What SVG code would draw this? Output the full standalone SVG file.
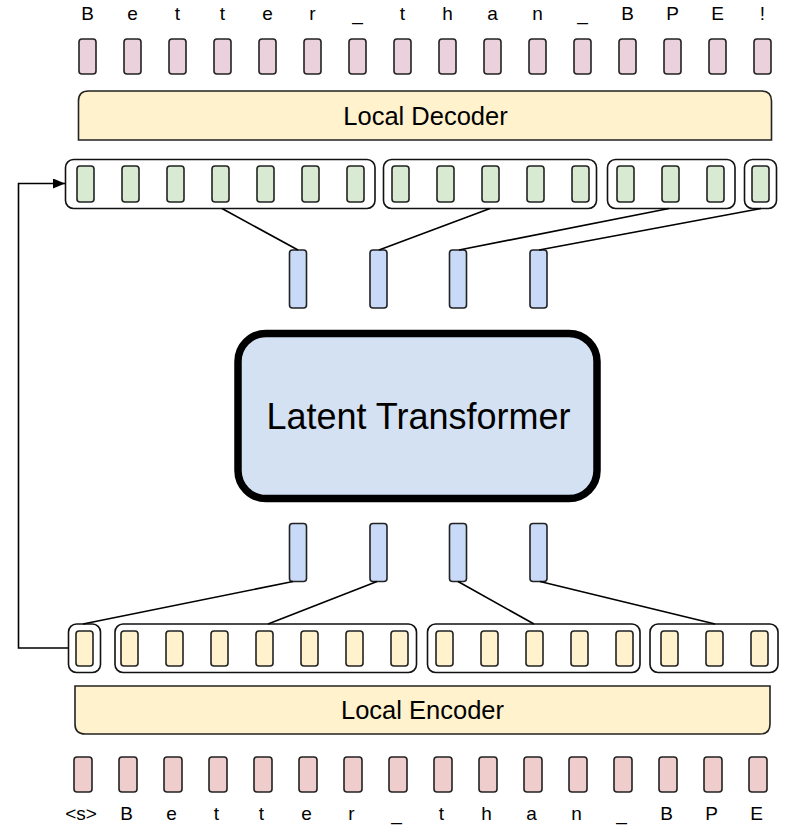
<svg xmlns="http://www.w3.org/2000/svg" width="790" height="830" viewBox="0 0 790 830">
<defs>
<style>
.ch{font-family:"Liberation Sans",Arial,sans-serif;font-size:19px;fill:#000;text-anchor:middle}
.lbl{font-family:"Liberation Sans",Arial,sans-serif;font-size:25.5px;fill:#000;text-anchor:middle}
.big{font-family:"Liberation Sans",Arial,sans-serif;font-size:36px;fill:#000;text-anchor:middle}
.tok{stroke:#222;stroke-width:1.6}
.pt{fill:#ead1dc}
.pb{fill:#efcdcd}
.gr{fill:#d9ead3}
.ye{fill:#fff2cc}
.bl{fill:#c9daf8}
.grp{fill:none;stroke:#111;stroke-width:1.6}
.band{fill:#fff2cc;stroke:#222;stroke-width:1.6}
.cn{fill:none;stroke:#000;stroke-width:1.6}
</style>
<marker id="ah" viewBox="0 0 12 10" refX="12" refY="5" markerWidth="12" markerHeight="10" markerUnits="userSpaceOnUse" orient="auto">
<path d="M0,0 L12,5 L0,10 Z" fill="#000"/>
</marker>
</defs>
<rect width="790" height="830" fill="#fff"/>

<g id="output-chars">
<text class="ch" x="87.5" y="20">B</text>
<text class="ch" x="132.5" y="20">e</text>
<text class="ch" x="177.5" y="20">t</text>
<text class="ch" x="222.5" y="20">t</text>
<text class="ch" x="267.5" y="20">e</text>
<text class="ch" x="312.5" y="20">r</text>
<text class="ch" x="357.5" y="20">_</text>
<text class="ch" x="402.5" y="20">t</text>
<text class="ch" x="447.5" y="20">h</text>
<text class="ch" x="492.5" y="20">a</text>
<text class="ch" x="537.5" y="20">n</text>
<text class="ch" x="582.5" y="20">_</text>
<text class="ch" x="627.5" y="20">B</text>
<text class="ch" x="672.5" y="20">P</text>
<text class="ch" x="717.5" y="20">E</text>
<text class="ch" x="762.5" y="20">!</text>
</g>

<g id="output-tokens">
<rect class="tok pt" x="79" y="39" width="17" height="35" rx="3"/>
<rect class="tok pt" x="124" y="39" width="17" height="35" rx="3"/>
<rect class="tok pt" x="169" y="39" width="17" height="35" rx="3"/>
<rect class="tok pt" x="214" y="39" width="17" height="35" rx="3"/>
<rect class="tok pt" x="259" y="39" width="17" height="35" rx="3"/>
<rect class="tok pt" x="304" y="39" width="17" height="35" rx="3"/>
<rect class="tok pt" x="349" y="39" width="17" height="35" rx="3"/>
<rect class="tok pt" x="394" y="39" width="17" height="35" rx="3"/>
<rect class="tok pt" x="439" y="39" width="17" height="35" rx="3"/>
<rect class="tok pt" x="484" y="39" width="17" height="35" rx="3"/>
<rect class="tok pt" x="529" y="39" width="17" height="35" rx="3"/>
<rect class="tok pt" x="574" y="39" width="17" height="35" rx="3"/>
<rect class="tok pt" x="619" y="39" width="17" height="35" rx="3"/>
<rect class="tok pt" x="664" y="39" width="17" height="35" rx="3"/>
<rect class="tok pt" x="709" y="39" width="17" height="35" rx="3"/>
<rect class="tok pt" x="754" y="39" width="17" height="35" rx="3"/>
</g>

<g id="local-decoder">
<path class="band" d="M78.5,140 V101 Q78.5,91 88.5,91 H761.5 Q771.5,91 771.5,101 V140 Z"/>
<text class="lbl" x="425.5" y="124.5">Local Decoder</text>
</g>

<g id="decoder-patches">
<rect class="grp" x="65.5" y="159.5" width="309.5" height="49" rx="8"/>
<rect class="grp" x="383.5" y="159.5" width="213" height="49" rx="8"/>
<rect class="grp" x="607.5" y="159.5" width="127.5" height="49" rx="8"/>
<rect class="grp" x="744.5" y="159.5" width="32" height="49" rx="8"/>
<rect class="tok gr" x="77" y="166" width="17" height="36" rx="3"/>
<rect class="tok gr" x="122" y="166" width="17" height="36" rx="3"/>
<rect class="tok gr" x="167" y="166" width="17" height="36" rx="3"/>
<rect class="tok gr" x="212" y="166" width="17" height="36" rx="3"/>
<rect class="tok gr" x="257" y="166" width="17" height="36" rx="3"/>
<rect class="tok gr" x="302" y="166" width="17" height="36" rx="3"/>
<rect class="tok gr" x="347" y="166" width="17" height="36" rx="3"/>
<rect class="tok gr" x="392" y="166" width="17" height="36" rx="3"/>
<rect class="tok gr" x="437" y="166" width="17" height="36" rx="3"/>
<rect class="tok gr" x="482" y="166" width="17" height="36" rx="3"/>
<rect class="tok gr" x="527" y="166" width="17" height="36" rx="3"/>
<rect class="tok gr" x="572" y="166" width="17" height="36" rx="3"/>
<rect class="tok gr" x="617" y="166" width="17" height="36" rx="3"/>
<rect class="tok gr" x="662" y="166" width="17" height="36" rx="3"/>
<rect class="tok gr" x="707" y="166" width="17" height="36" rx="3"/>
<rect class="tok gr" x="752" y="166" width="17" height="36" rx="3"/>
</g>

<g id="latent-out">
<rect class="tok bl" x="289.5" y="250" width="17" height="58" rx="3"/>
<rect class="tok bl" x="370" y="250" width="17" height="58" rx="3"/>
<rect class="tok bl" x="449.5" y="250" width="17" height="58" rx="3"/>
<rect class="tok bl" x="530" y="250" width="17" height="58" rx="3"/>
</g>

<g id="latent-transformer">
<rect x="238" y="333.5" width="359" height="165" rx="28" fill="#d4e1f3" stroke="#000" stroke-width="7.5"/>
<text class="big" x="418.5" y="429">Latent Transformer</text>
</g>

<g id="latent-in">
<rect class="tok bl" x="289.5" y="523.5" width="17" height="58" rx="3"/>
<rect class="tok bl" x="370" y="523.5" width="17" height="58" rx="3"/>
<rect class="tok bl" x="449.5" y="523.5" width="17" height="58" rx="3"/>
<rect class="tok bl" x="530" y="523.5" width="17" height="58" rx="3"/>
</g>

<g id="encoder-patches">
<rect class="grp" x="68.5" y="624" width="32" height="48.5" rx="8"/>
<rect class="grp" x="115" y="624" width="301.5" height="48.5" rx="8"/>
<rect class="grp" x="427.5" y="624" width="212.5" height="48.5" rx="8"/>
<rect class="grp" x="650" y="624" width="128" height="48.5" rx="8"/>
<rect class="tok ye" x="76" y="631" width="17" height="35" rx="3"/>
<rect class="tok ye" x="121" y="631" width="17" height="35" rx="3"/>
<rect class="tok ye" x="166" y="631" width="17" height="35" rx="3"/>
<rect class="tok ye" x="211" y="631" width="17" height="35" rx="3"/>
<rect class="tok ye" x="256" y="631" width="17" height="35" rx="3"/>
<rect class="tok ye" x="301" y="631" width="17" height="35" rx="3"/>
<rect class="tok ye" x="346" y="631" width="17" height="35" rx="3"/>
<rect class="tok ye" x="391" y="631" width="17" height="35" rx="3"/>
<rect class="tok ye" x="436" y="631" width="17" height="35" rx="3"/>
<rect class="tok ye" x="481" y="631" width="17" height="35" rx="3"/>
<rect class="tok ye" x="526" y="631" width="17" height="35" rx="3"/>
<rect class="tok ye" x="571" y="631" width="17" height="35" rx="3"/>
<rect class="tok ye" x="616" y="631" width="17" height="35" rx="3"/>
<rect class="tok ye" x="661" y="631" width="17" height="35" rx="3"/>
<rect class="tok ye" x="706" y="631" width="17" height="35" rx="3"/>
<rect class="tok ye" x="751" y="631" width="17" height="35" rx="3"/>
</g>

<g id="local-encoder">
<path class="band" d="M75,686 H770 V724 Q770,734 760,734 H85 Q75,734 75,724 Z"/>
<text class="lbl" x="422.5" y="719">Local Encoder</text>
</g>

<g id="input-tokens">
<rect class="tok pb" x="74" y="757" width="18" height="35" rx="3"/>
<rect class="tok pb" x="119" y="757" width="18" height="35" rx="3"/>
<rect class="tok pb" x="164" y="757" width="18" height="35" rx="3"/>
<rect class="tok pb" x="209" y="757" width="18" height="35" rx="3"/>
<rect class="tok pb" x="254" y="757" width="18" height="35" rx="3"/>
<rect class="tok pb" x="299" y="757" width="18" height="35" rx="3"/>
<rect class="tok pb" x="344" y="757" width="18" height="35" rx="3"/>
<rect class="tok pb" x="389" y="757" width="18" height="35" rx="3"/>
<rect class="tok pb" x="434" y="757" width="18" height="35" rx="3"/>
<rect class="tok pb" x="479" y="757" width="18" height="35" rx="3"/>
<rect class="tok pb" x="524" y="757" width="18" height="35" rx="3"/>
<rect class="tok pb" x="569" y="757" width="18" height="35" rx="3"/>
<rect class="tok pb" x="614" y="757" width="18" height="35" rx="3"/>
<rect class="tok pb" x="659" y="757" width="18" height="35" rx="3"/>
<rect class="tok pb" x="704" y="757" width="18" height="35" rx="3"/>
<rect class="tok pb" x="749" y="757" width="18" height="35" rx="3"/>
</g>

<g id="input-chars">
<text class="ch" x="81" y="820">&lt;s&gt;</text>
<text class="ch" x="126.5" y="820">B</text>
<text class="ch" x="171.5" y="820">e</text>
<text class="ch" x="216.5" y="820">t</text>
<text class="ch" x="261.5" y="820">t</text>
<text class="ch" x="306.5" y="820">e</text>
<text class="ch" x="351.5" y="820">r</text>
<text class="ch" x="396.5" y="820">_</text>
<text class="ch" x="441.5" y="820">t</text>
<text class="ch" x="486.5" y="820">h</text>
<text class="ch" x="531.5" y="820">a</text>
<text class="ch" x="576.5" y="820">n</text>
<text class="ch" x="621.5" y="820">_</text>
<text class="ch" x="666.5" y="820">B</text>
<text class="ch" x="711.5" y="820">P</text>
<text class="ch" x="756.5" y="820">E</text>
</g>

<g id="connectors">
<path class="cn" d="M222,208.5 L298,250"/>
<path class="cn" d="M490,208.5 L379,250"/>
<path class="cn" d="M669,208.5 L459,250"/>
<path class="cn" d="M761,208.5 L539,250"/>
<path class="cn" d="M293,581.5 L83,624"/>
<path class="cn" d="M377,581.5 L268,624"/>
<path class="cn" d="M458,581.5 L534,624"/>
<path class="cn" d="M540,581.5 L715,624"/>
<path class="cn" d="M68.5,648 H18.5 V183.5 H65" marker-end="url(#ah)"/>
</g>
</svg>
